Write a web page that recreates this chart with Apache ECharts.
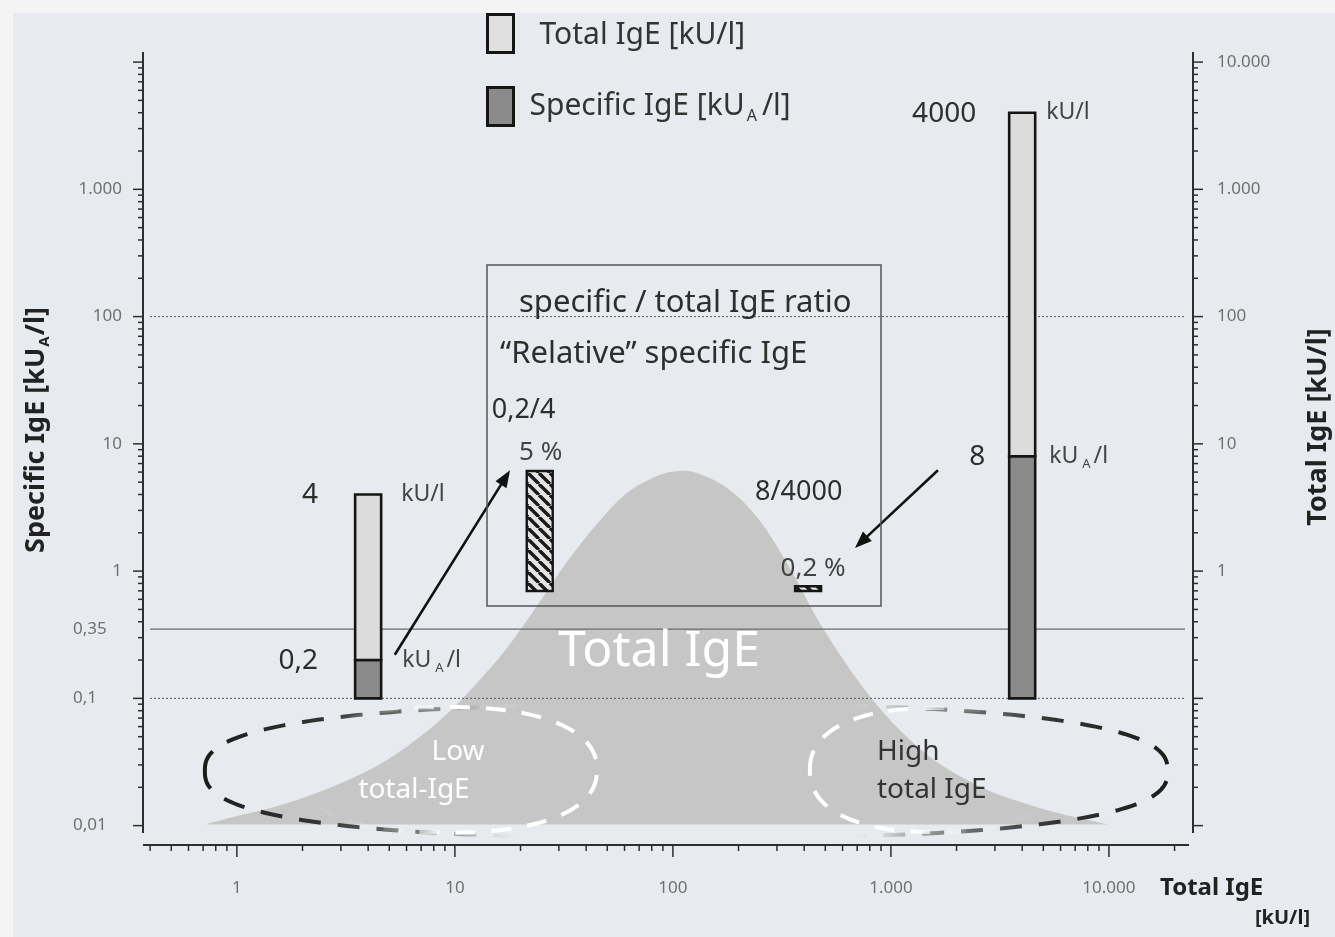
<!DOCTYPE html>
<html lang="en">
<head>
<meta charset="utf-8">
<title>Specific and total IgE</title>
<script src="https://cdn.jsdelivr.net/npm/echarts@6.0.0/dist/echarts.min.js"></script>
<style>
  html, body { margin: 0; padding: 0; background: #f4f4f4; }
  #chart { width: 1335px; height: 937px; }
</style>
</head>
<body>
<div id="chart"></div>
<script>
// ---------- axis ticks ----------
const xTickValues = [1, 10, 100, 1000, 10000];
const xTickLabels = ['1', '10', '100', '1.000', '10.000'];
const leftTickValues = [0.01, 0.1, 0.35, 1, 10, 100, 1000];
const leftTickLabels = ['0,01', '0,1', '0,35', '1', '10', '100', '1.000'];
const rightTickValues = [1, 10, 100, 1000, 10000];
const rightTickLabels = ['1', '10', '100', '1.000', '10.000'];

// ---------- reference levels on the specific IgE scale (kU_A/l) ----------
const referenceLevels = [100, 0.35, 0.1];

// ---------- two example patients ----------
const patientTotalIgE = [4, 4000];     // kU/l
const patientSpecificIgE = [0.2, 8];   // kU_A/l
const barFloor = 0.1;                  // kU_A/l

// total IgE positions at which the two ratio bars are shown
const ratioBarTotalIgE = [24.5, 417];

// ---------- population distribution of total IgE (outline of the grey curve) ----------
const bellTotalIgE = [0.728, 1.0, 1.373, 1.885, 2.588, 3.552, 4.877, 6.695, 9.19, 12.62, 17.32, 23.78,
                      32.65, 44.82, 61.5, 84.5, 104.3, 128.9, 176.9, 242.8, 333.4, 457.7, 628.4, 862.6,
                      1184, 1626, 2232, 3064, 4207, 5775, 7928, 10100];
const bellLevel = [0.0103, 0.0119, 0.0135, 0.0159, 0.0194, 0.0245, 0.0328, 0.0479, 0.0753, 0.132, 0.248, 0.531,
                   1.177, 2.34, 4.1, 5.58, 6.1, 5.89, 4.49, 2.656, 1.156, 0.427, 0.183, 0.0886,
                   0.0497, 0.0316, 0.0228, 0.0177, 0.0148, 0.0126, 0.0111, 0.0101];
const bellFloor = 0.0102;

// ---------- circled regions: total IgE range and specific IgE range ----------
const circledTotalRanges = [[0.713, 18600], [1.9, 44.8], [425, 5960]];
const circledLevelRanges = [[0.008, 0.09], [0.0088, 0.0855], [0.0089, 0.084]];

// ---------- arrows from the patients to their ratio bars (data units) ----------
const arrowFrom = [[5.3, 0.22], [1643, 6.2]];
const arrowTo = [[17.9, 6.2], [684, 1.52]];

// ---------- presentation ----------
const FONT = 'Noto Sans';
const TEXT = '#2e2e2e';
const totalLabelOffsets = [{ num: -37, unit: 20 }, { num: -33, unit: 11 }];
const specLabelOffsets = [{ num: -37, unit: 21 }, { num: -24, unit: 14 }];
const ratioPctOffsets = [{ dx: 1, dy: -18 }, { dx: 5, dy: -18 }];
const ratioFracOffsets = [{ dx: -48, dy: -61, align: 'left' }, { dx: -53, dy: -94, align: 'left' }];
const SPEC_NAME = 'Specific IgE [kU_A/l]';
const TOTAL_NAME = 'Total IgE [kU/l]';

const fmt = v => String(v).replace('.', ',');

function seg(x1, y1, x2, y2, style) {
  return { type: 'line', shape: { x1, y1, x2, y2 }, style };
}

function unitText(withSub) {
  return withSub ? '{u|kU}{s|A}{u|/l}' : '{u|kU/l}';
}
const unitRich = {
  u: { fontSize: 23, fontFamily: FONT, fill: '#444', lineHeight: 30, verticalAlign: 'middle' },
  s: { fontSize: 13, fontFamily: FONT, fill: '#444', lineHeight: 13, verticalAlign: 'bottom', padding: [0, 3, 0, 4] }
};

// ---------- renderers ----------
function renderAxes(params, api) {
  const cs = params.coordSys;
  const L = cs.x, R = cs.x + cs.width, T = cs.y, B = cs.y + cs.height;
  const axisY = B + 12;
  const ax = { stroke: '#2e2e2e', lineWidth: 2 };
  const tk = { stroke: '#2e2e2e', lineWidth: 1.5 };
  const out = [seg(L, T, L, B, ax), seg(R, T, R, B, ax), seg(L, axisY, R - 4, axisY, ax)];
  for (let e = -2; e <= 4; e++) {
    for (let k = 1; k <= 9; k++) {
      const y = api.coord([1, k * Math.pow(10, e)])[1];
      if (y < T || y > B) continue;
      const len = k === 1 ? 10 : 5;
      out.push(seg(L - len, y, L, y, tk), seg(R, y, R + len, y, tk));
    }
  }
  for (let e = -1; e <= 4; e++) {
    for (let k = 1; k <= 9; k++) {
      const v = k * Math.pow(10, e);
      if (v < 0.4 || v > 20000) continue;
      const x = api.coord([v, 1])[0];
      const len = k === 1 ? 12 : 6;
      out.push(seg(x, axisY, x, axisY + len, tk));
    }
  }
  const lab = { fontSize: 17, fontFamily: FONT, fill: '#707070', verticalAlign: 'middle' };
  leftTickValues.forEach((v, i) => {
    const y = api.coord([1, v])[1];
    const small = v < 1;
    out.push({ type: 'text', style: Object.assign({}, lab, {
      text: leftTickLabels[i], x: small ? L - 70 : L - 21, y, align: small ? 'left' : 'right' }) });
  });
  rightTickValues.forEach((v, i) => {
    const y = api.coord([1, v])[1];
    out.push({ type: 'text', style: Object.assign({}, lab, {
      text: rightTickLabels[i], x: R + 24, y, align: 'left' }) });
  });
  xTickValues.forEach((v, i) => {
    const x = api.coord([v, 1])[0];
    out.push({ type: 'text', style: Object.assign({}, lab, {
      text: xTickLabels[i], x, y: axisY + 43, align: 'center' }) });
  });
  return { type: 'group', children: out };
}

function renderBell(params, api) {
  const pts = bellTotalIgE.map((x, i) => api.coord([x, bellLevel[i]]));
  const base = api.coord([1, bellFloor])[1];
  let d = 'M' + pts[0][0] + ',' + pts[0][1];
  for (let i = 0; i < pts.length - 1; i++) {
    const p0 = pts[i - 1] || pts[i], p1 = pts[i], p2 = pts[i + 1], p3 = pts[i + 2] || p2;
    const c1 = [p1[0] + (p2[0] - p0[0]) / 6, p1[1] + (p2[1] - p0[1]) / 6];
    const c2 = [p2[0] - (p3[0] - p1[0]) / 6, p2[1] - (p3[1] - p1[1]) / 6];
    d += ' C' + c1[0] + ',' + c1[1] + ',' + c2[0] + ',' + c2[1] + ',' + p2[0] + ',' + p2[1];
  }
  d += ' L' + pts[pts.length - 1][0] + ',' + base + ' L' + pts[0][0] + ',' + base + ' Z';
  return { type: 'path', shape: { pathData: d }, style: { fill: '#c6c6c6' } };
}

function renderReferenceLines(params, api) {
  const cs = params.coordSys;
  const y = api.coord([1, api.value(0)])[1];
  const dotted = api.value(0) !== 0.35;
  return seg(cs.x + 7, y, cs.x + cs.width - 8, y, dotted
    ? { stroke: '#5a5a5a', lineWidth: 1, lineDash: [2, 2] }
    : { stroke: '#6a6a6a', lineWidth: 1.3 });
}

const ellipseStyles = [
  { n: 2.6, width: 4, dash: [22, 17], stops: [
      [0, '#1c1c1c'], [0.12, '#333'], [0.2, '#666'], [0.27, '#a5a8ab'], [0.33, 'rgba(225,229,233,0)'],
      [0.67, 'rgba(225,229,233,0)'], [0.73, '#a5a8ab'], [0.8, '#666'], [0.88, '#333'], [1, '#1c1c1c']] },
  { n: 2.3, width: 4, dash: [20, 16], stops: [
      [0, 'rgba(255,255,255,0)'], [0.35, 'rgba(255,255,255,0.2)'], [0.5, '#fff'], [1, '#fff']] },
  { n: 2.3, width: 4, dash: [20, 16], stops: [
      [0, '#fff'], [0.42, '#fff'], [0.58, 'rgba(255,255,255,0.15)'], [1, 'rgba(255,255,255,0)']] }
];

function renderEllipse(params, api) {
  const i = params.dataIndex;
  const tl = api.coord([circledTotalRanges[i][0], circledLevelRanges[i][1]]);
  const br = api.coord([circledTotalRanges[i][1], circledLevelRanges[i][0]]);
  const cx = (tl[0] + br[0]) / 2, cy = (tl[1] + br[1]) / 2;
  const a = (br[0] - tl[0]) / 2, b = (br[1] - tl[1]) / 2;
  const st = ellipseStyles[i];
  const pts = [];
  const N = 240;
  for (let k = 0; k < N; k++) {
    const t = Math.PI + (k / N) * 2 * Math.PI;
    const c = Math.cos(t), s = Math.sin(t);
    pts.push([cx + a * Math.sign(c) * Math.pow(Math.abs(c), 2 / st.n),
              cy + b * Math.sign(s) * Math.pow(Math.abs(s), 2 / st.n)]);
  }
  return {
    type: 'polygon', shape: { points: pts },
    style: {
      fill: null, lineWidth: st.width, lineDash: st.dash,
      stroke: new echarts.graphic.LinearGradient(0, 0, 1, 0,
        st.stops.map(s => ({ offset: s[0], color: s[1] })))
    }
  };
}

function makeBarRenderer(fill, offsets, withSub) {
  return function (params, api) {
    const i = params.dataIndex;
    const x = api.value(0), lo = api.value(1), hi = api.value(2);
    const pTop = api.coord([x, hi]);
    const pBot = api.coord([x, lo]);
    const w = 26;
    const left = pTop[0] - w / 2, right = pTop[0] + w / 2;
    const off = offsets[i];
    return {
      type: 'group',
      children: [
        { type: 'rect', shape: { x: left, y: pTop[1], width: w, height: pBot[1] - pTop[1] },
          style: { fill, stroke: '#151515', lineWidth: 2.6 } },
        { type: 'text', style: { text: fmt(hi), x: left + off.num, y: pTop[1] + 1, align: 'right',
          verticalAlign: 'middle', fontSize: 28, fontFamily: FONT, fill: TEXT } },
        { type: 'text', style: { text: unitText(withSub), x: right + off.unit, y: pTop[1], align: 'left',
          verticalAlign: 'middle', rich: unitRich } }
      ]
    };
  };
}

// diagonal hatching used for the ratio bars
function makeHatch() {
  const n = 11;
  const c = document.createElement('canvas');
  c.width = n; c.height = n;
  const g = c.getContext('2d');
  g.fillStyle = '#e4e4e4';
  g.fillRect(0, 0, n, n);
  g.strokeStyle = '#1a1a1a';
  g.lineWidth = 3.4;
  [-n, 0, n].forEach(k => { g.beginPath(); g.moveTo(k, 0); g.lineTo(k + n, n); g.stroke(); });
  return c;
}
const hatch = makeHatch();

function renderRatioBar(params, api) {
  const i = params.dataIndex;
  const x = api.value(0), pct = api.value(1);
  const pTop = api.coord([x, pct]);
  const pBot = api.coord([x, 0]);
  const w = 26;
  const left = pTop[0] - w / 2;
  const po = ratioPctOffsets[i], fo = ratioFracOffsets[i];
  const txt = { fontSize: 26, fontFamily: FONT, fill: TEXT, verticalAlign: 'middle' };
  return {
    type: 'group',
    children: [
      { type: 'rect', shape: { x: left, y: pTop[1], width: w, height: pBot[1] - pTop[1] },
        style: { fill: { image: hatch, repeat: 'repeat' }, stroke: '#151515', lineWidth: 2.4 } },
      { type: 'text', style: Object.assign({}, txt, { text: fmt(pct) + ' %', x: pTop[0] + po.dx,
        y: pTop[1] + po.dy, align: 'center', fill: '#444' }) },
      { type: 'text', style: Object.assign({}, txt, {
        text: fmt(patientSpecificIgE[i]) + '/' + fmt(patientTotalIgE[i]),
        x: pTop[0] + fo.dx, y: pTop[1] + fo.dy, align: fo.align, fontSize: 27 }) }
    ]
  };
}

function renderArrow(params, api) {
  const i = params.dataIndex;
  const a = api.coord(arrowFrom[i]);
  const b = api.coord(arrowTo[i]);
  const dx = b[0] - a[0], dy = b[1] - a[1];
  const len = Math.hypot(dx, dy);
  const ux = dx / len, uy = dy / len, nx = -uy, ny = ux;
  const hl = 17, hw = 6.5;
  const base = [b[0] - ux * hl, b[1] - uy * hl];
  return {
    type: 'group',
    children: [
      seg(a[0], a[1], base[0] + ux * 3, base[1] + uy * 3, { stroke: '#111', lineWidth: 2.6 }),
      { type: 'polygon', shape: { points: [b, [base[0] + nx * hw, base[1] + ny * hw], [base[0] - nx * hw, base[1] - ny * hw]] },
        style: { fill: '#111' } }
    ]
  };
}

// ---------- series data built from the arrays ----------
const totalBarData = patientTotalIgE.map((t, i) => [t, patientSpecificIgE[i], t]);
const specBarData = patientTotalIgE.map((t, i) => [t, barFloor, patientSpecificIgE[i]]);
const ratioData = ratioBarTotalIgE.map((x, i) => [x, patientSpecificIgE[i] / patientTotalIgE[i] * 100]);

const chart = echarts.init(document.getElementById('chart'), null, { renderer: 'canvas' });

const legendRich = {
  p1: { fontSize: 30, color: '#333', fontFamily: FONT, lineHeight: 36, padding: [4, 0, 0, 21] },
  p2: { fontSize: 30, color: '#333', fontFamily: FONT, lineHeight: 36, padding: [0, 0, 0, 11] },
  p: { fontSize: 30, color: '#333', fontFamily: FONT, lineHeight: 36 },
  sub: { fontSize: 16, color: '#333', fontFamily: FONT, lineHeight: 16, verticalAlign: 'bottom', padding: [0, 5, 0, 2] }
};

const option = {
  animation: false,
  backgroundColor: '#f4f4f4',
  textStyle: { fontFamily: FONT },
  grid: { left: 143, top: 52, width: 1050, height: 781, containLabel: false, outerBoundsMode: 'none' },
  xAxis: { type: 'log', logBase: 10, min: 0.371, max: 24300, show: false },
  yAxis: [
    { type: 'log', logBase: 10, min: 0.00875, max: 12000, show: false },
    { type: 'value', min: -10.08, max: 22.46, show: false }
  ],
  legend: {
    left: 486, top: 13, padding: 0, orient: 'vertical', itemWidth: 26, itemHeight: 38, itemGap: 32,
    selectedMode: false,
    data: [
      { name: TOTAL_NAME, icon: 'rect', itemStyle: { color: '#e0e0e0', borderColor: '#151515', borderWidth: 3 } },
      { name: SPEC_NAME, icon: 'rect', itemStyle: { color: '#8b8b8b', borderColor: '#151515', borderWidth: 3 } }
    ],
    formatter: name => name === SPEC_NAME
      ? '{p2|Specific IgE [kU}{sub|A}{p|/l]}'
      : '{p1|Total IgE [kU/l]}',
    textStyle: { fontSize: 30, color: '#333', fontFamily: FONT, rich: legendRich }
  },
  graphic: [
    { type: 'rect', z: -10, silent: true, shape: { x: 13, y: 13, width: 1322, height: 924 }, style: { fill: '#e7ebef' } },
    { type: 'rect', z: 100, silent: true, shape: { x: 487, y: 265, width: 394, height: 341 },
      style: { fill: null, stroke: '#555', lineWidth: 1.5 } },
    { type: 'text', z: 100, silent: true, style: { text: 'specific / total IgE ratio', x: 519, y: 303,
      verticalAlign: 'middle', fontSize: 31, fontFamily: FONT, fill: TEXT } },
    { type: 'text', z: 100, silent: true, style: { text: '\u201CRelative\u201D specific IgE', x: 500, y: 354,
      verticalAlign: 'middle', fontSize: 31, fontFamily: FONT, fill: TEXT } },
    { type: 'text', z: 100, silent: true, style: { text: 'Total IgE', x: 659, y: 652, align: 'center',
      verticalAlign: 'middle', fontSize: 50, fontFamily: FONT, fill: '#ffffff' } },
    { type: 'text', z: 100, silent: true, style: { text: 'Low', x: 458, y: 752, align: 'center',
      verticalAlign: 'middle', fontSize: 28, fontFamily: FONT, fill: '#ffffff' } },
    { type: 'text', z: 100, silent: true, style: { text: 'total-IgE', x: 414, y: 790, align: 'center',
      verticalAlign: 'middle', fontSize: 28, fontFamily: FONT, fill: '#ffffff' } },
    { type: 'text', z: 100, silent: true, style: { text: 'High', x: 877, y: 752,
      verticalAlign: 'middle', fontSize: 28, fontFamily: FONT, fill: '#333' } },
    { type: 'text', z: 100, silent: true, style: { text: 'total IgE', x: 877, y: 790,
      verticalAlign: 'middle', fontSize: 28, fontFamily: FONT, fill: '#333' } },
    { type: 'text', z: 100, silent: true, x: 36, y: 430, rotation: Math.PI / 2,
      style: { text: '{b|Specific IgE [kU}{s|A}{b|/l]}', align: 'center', verticalAlign: 'middle',
        rich: {
          b: { fontSize: 27, fontWeight: 'bold', fontFamily: FONT, fill: '#222', lineHeight: 32, verticalAlign: 'middle' },
          s: { fontSize: 15, fontWeight: 'bold', fontFamily: FONT, fill: '#222', lineHeight: 15, verticalAlign: 'bottom', padding: [0, 1, 0, 1] }
        } } },
    { type: 'text', z: 100, silent: true, x: 1318, y: 427, rotation: Math.PI / 2,
      style: { text: 'Total IgE [kU/l]', align: 'center', verticalAlign: 'middle',
        fontSize: 27, fontWeight: 'bold', fontFamily: FONT, fill: '#222' } },
    { type: 'text', z: 100, silent: true, style: { text: 'Total IgE', x: 1160, y: 888, verticalAlign: 'middle',
      fontSize: 24, fontWeight: 'bold', fontFamily: FONT, fill: '#222' } },
    { type: 'text', z: 100, silent: true, style: { text: '[kU/l]', x: 1310, y: 918, align: 'right', verticalAlign: 'middle',
      fontSize: 20, fontWeight: 'bold', fontFamily: FONT, fill: '#222' } }
  ],
  series: [
    { type: 'custom', name: 'Total IgE distribution', silent: true, data: [[1, 1]], renderItem: renderBell },
    { type: 'custom', name: 'Reference levels', silent: true, data: referenceLevels.map(v => [v]), renderItem: renderReferenceLines },
    { type: 'custom', name: 'Circled ranges', silent: true, data: circledTotalRanges.map(r => [r[0], r[1]]), renderItem: renderEllipse },
    { type: 'custom', name: SPEC_NAME, silent: true, itemStyle: { color: '#8b8b8b' }, data: specBarData,
      renderItem: makeBarRenderer('#8b8b8b', specLabelOffsets, true) },
    { type: 'custom', name: TOTAL_NAME, silent: true, itemStyle: { color: '#e0e0e0' }, data: totalBarData,
      renderItem: makeBarRenderer('#dcdcdc', totalLabelOffsets, false) },
    { type: 'custom', name: 'Specific / total ratio', silent: true, yAxisIndex: 1, data: ratioData, renderItem: renderRatioBar },
    { type: 'custom', name: 'Arrows', silent: true, data: arrowFrom.map((p, i) => [p[0], p[1]]), renderItem: renderArrow },
    { type: 'custom', name: 'Axes', silent: true, data: [[1, 1]], renderItem: renderAxes }
  ]
};

chart.setOption(option);
</script>
</body>
</html>
